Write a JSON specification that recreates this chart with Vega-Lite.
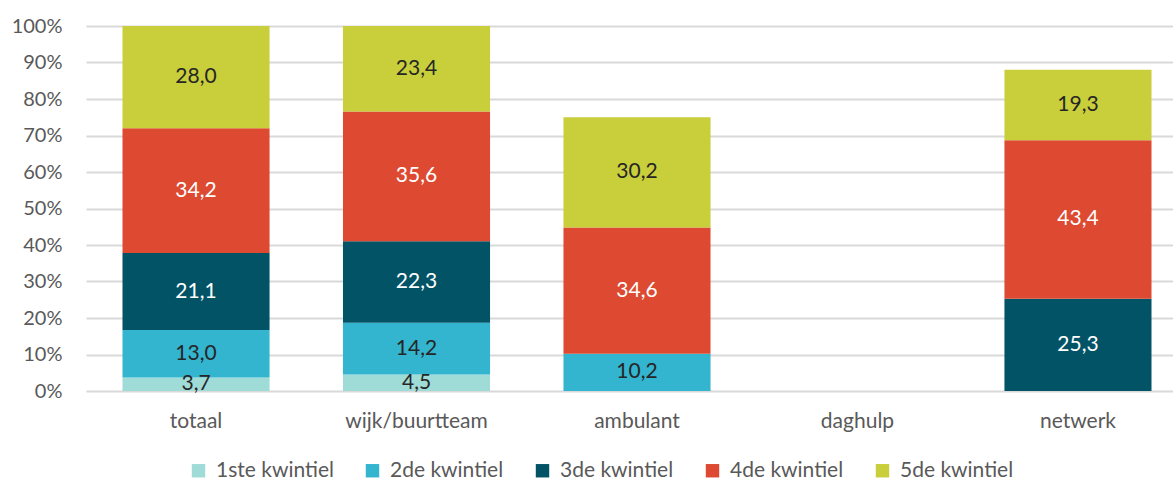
{
  "$schema": "https://vega.github.io/schema/vega-lite/v6.json",
  "width": 1087,
  "height": 365,
  "autosize": {"type": "none"},
  "padding": {"left": 86, "top": 26, "right": 0, "bottom": 94},
  "background": "white",
  "config": {
    "locale": {"number": {"decimal": ",", "thousands": ".", "grouping": [3], "currency": ["€", ""]}},
    "view": {"stroke": null},
    "font": "Lato"
  },
  "data": {
    "values": [
      {"categorie": "totaal", "kwintiel": "1ste kwintiel", "waarde": 3.7},
      {"categorie": "totaal", "kwintiel": "2de kwintiel", "waarde": 13.0},
      {"categorie": "totaal", "kwintiel": "3de kwintiel", "waarde": 21.1},
      {"categorie": "totaal", "kwintiel": "4de kwintiel", "waarde": 34.2},
      {"categorie": "totaal", "kwintiel": "5de kwintiel", "waarde": 28.0},
      {"categorie": "wijk/buurtteam", "kwintiel": "1ste kwintiel", "waarde": 4.5},
      {"categorie": "wijk/buurtteam", "kwintiel": "2de kwintiel", "waarde": 14.2},
      {"categorie": "wijk/buurtteam", "kwintiel": "3de kwintiel", "waarde": 22.3},
      {"categorie": "wijk/buurtteam", "kwintiel": "4de kwintiel", "waarde": 35.6},
      {"categorie": "wijk/buurtteam", "kwintiel": "5de kwintiel", "waarde": 23.4},
      {"categorie": "ambulant", "kwintiel": "2de kwintiel", "waarde": 10.2},
      {"categorie": "ambulant", "kwintiel": "4de kwintiel", "waarde": 34.6},
      {"categorie": "ambulant", "kwintiel": "5de kwintiel", "waarde": 30.2},
      {"categorie": "netwerk", "kwintiel": "3de kwintiel", "waarde": 25.3},
      {"categorie": "netwerk", "kwintiel": "4de kwintiel", "waarde": 43.4},
      {"categorie": "netwerk", "kwintiel": "5de kwintiel", "waarde": 19.3}
    ]
  },
  "transform": [
    {"stack": "waarde", "groupby": ["categorie"], "sort": [{"field": "kwintiel", "order": "ascending"}], "as": ["y0", "y1"]},
    {"calculate": "(datum.y0 + datum.y1) / 2", "as": "ymid"}
  ],
  "encoding": {
    "x": {
      "field": "categorie",
      "type": "nominal",
      "sort": ["totaal", "wijk/buurtteam", "ambulant", "daghulp", "netwerk"],
      "scale": {"domain": ["totaal", "wijk/buurtteam", "ambulant", "daghulp", "netwerk"], "range": [0, 1102], "paddingInner": 0.333, "paddingOuter": 0.1655},
      "axis": {"title": null, "domain": false, "ticks": false, "labelAngle": 0, "labelFontSize": 21, "labelColor": "#595959", "labelPadding": 19, "grid": false}
    }
  },
  "layer": [
    {
      "mark": {"type": "bar"},
      "encoding": {
        "y": {
          "field": "y0", "type": "quantitative",
          "scale": {"domain": [0, 100], "nice": false},
          "axis": {"title": null, "values": [0, 10, 20, 30, 40, 50, 60, 70, 80, 90, 100], "labelOverlap": false, "labelExpr": "datum.value + '%'", "domain": false, "ticks": false, "labelFontSize": 20, "labelColor": "#595959", "labelPadding": 24, "gridColor": "#d9d9d9", "gridWidth": 2}
        },
        "y2": {"field": "y1"},
        "color": {
          "field": "kwintiel", "type": "nominal",
          "scale": {"domain": ["1ste kwintiel", "2de kwintiel", "3de kwintiel", "4de kwintiel", "5de kwintiel"], "range": ["#9fdbd7", "#33b4cf", "#025366", "#dd4a31", "#c9ce3b"]},
          "legend": {"title": null, "orient": "none", "direction": "horizontal", "legendX": 102, "legendY": 434, "symbolType": "square", "symbolSize": 180, "symbolStrokeWidth": 0, "labelFontSize": 21, "labelColor": "#595959", "labelOffset": 7, "columnPadding": 28}
        }
      }
    },
    {
      "mark": {"type": "text", "fontSize": 21, "baseline": "middle", "align": "center"},
      "encoding": {
        "y": {
          "field": "ymid", "type": "quantitative",
          "scale": {"domain": [0, 100], "nice": false},
          "axis": {"title": null, "values": [0, 10, 20, 30, 40, 50, 60, 70, 80, 90, 100], "labelOverlap": false, "labelExpr": "datum.value + '%'", "domain": false, "ticks": false, "labelFontSize": 20, "labelColor": "#595959", "labelPadding": 24, "gridColor": "#d9d9d9", "gridWidth": 2}
        },
        "text": {"field": "waarde", "type": "quantitative", "format": ".1f"},
        "color": {
          "condition": {"test": "datum.kwintiel == '3de kwintiel' || datum.kwintiel == '4de kwintiel'", "value": "#ffffff"},
          "value": "#262626"
        }
      }
    }
  ]
}
